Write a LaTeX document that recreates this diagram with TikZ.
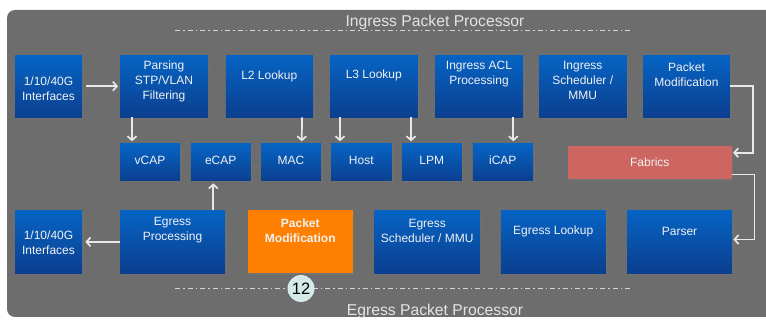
\documentclass[tikz,border=0pt]{standalone}
\usepackage{fontspec}
\setmainfont{Liberation Sans}
\usetikzlibrary{arrows.meta,shadows,calc}
\definecolor{bg}{HTML}{6D6D6D}
\definecolor{boxtop}{HTML}{0664C4}
\definecolor{boxbot}{HTML}{0B3F8F}
\definecolor{fabc}{HTML}{CD6660}
\definecolor{orng}{HTML}{FF7F00}
\definecolor{linec}{HTML}{E8E8E8}
\definecolor{dashc}{HTML}{D6D6D6}
\definecolor{cir}{HTML}{D3EAE8}
\definecolor{txtc}{HTML}{F2F2F2}
\definecolor{ttlc}{HTML}{E4E4E4}
\begin{document}
\begin{tikzpicture}[x=1pt,y=-1pt,
  blk/.style={draw=none, top color=boxtop, bottom color=boxbot, inner sep=0pt,
    anchor=north west, drop shadow={shadow xshift=1.5pt,shadow yshift=-1.5pt,opacity=0.3}},
  flat/.style={draw=none, inner sep=0pt, anchor=north west,
    drop shadow={shadow xshift=1.5pt,shadow yshift=-1.5pt,opacity=0.3}},
  txt/.style={text=txtc, align=center, inner sep=0pt, font=\fontsize{12}{15}\selectfont},
  ttl/.style={text=ttlc, inner sep=0pt, font=\fontsize{15.7}{18}\selectfont},
  arr/.style={draw=linec, line width=1.7pt, -{Straight Barb[length=4pt,width=9pt]}},
  dd/.style={draw=dashc, line width=1pt, dash pattern=on 5pt off 3pt on 1.5pt off 3pt}
]
\useasboundingbox (0,0) rectangle (766,320);
\clip (0,0) rectangle (766,320);
\fill[white] (0,0) rectangle (766,320);
\fill[bg, rounded corners=8pt] (7,10) rectangle (800,317);

% titles and dashed lines
\draw[dd] (175,30.3) -- (632,30.3);
\node[ttl] (ttlin) at (435,22) {Ingress Packet Processor};
\draw[dd] (175,288.5) -- (632,288.5);
\node[ttl] (ttleg) at (435,311) {Egress Packet Processor};

% top row
\node[blk, minimum width=67pt, minimum height=62pt] (i1) at (15,55.7) {};
\node[txt] (ti1) at (48.5,88.5) {1/10/40G\\Interfaces};
\node[blk, minimum width=88pt, minimum height=62pt] (p1) at (120,55) {};
\node[txt] (tp1) at (164,81) {Parsing\\STP/VLAN\\Filtering};
\node[blk, minimum width=87.3pt, minimum height=62pt] (l2) at (225.7,55) {};
\node[txt] (tl2) at (269.3,76) {L2 Lookup};
\node[blk, minimum width=87.7pt, minimum height=62pt] (l3) at (330,55) {};
\node[txt] (tl3) at (373.8,75) {L3 Lookup};
\node[blk, minimum width=88pt, minimum height=62pt] (acl) at (435,55) {};
\node[txt] (tacl) at (479,74.5) {Ingress ACL\\Processing};
\node[blk, minimum width=87.7pt, minimum height=62pt] (sch) at (539,55) {};
\node[txt] (tsch) at (582.8,80) {Ingress\\Scheduler /\\MMU};
\node[blk, minimum width=87pt, minimum height=62pt] (pm) at (643,55) {};
\node[txt] (tpm) at (686.5,74.5) {Packet\\Modification};

% small row
\node[blk, minimum width=60pt, minimum height=37.4pt] (vcap) at (120,143.3) {};
\node[txt] (tvcap) at (150,160.5) {vCAP};
\node[blk, minimum width=60pt, minimum height=37.4pt] (ecap) at (190.7,143.3) {};
\node[txt] (tecap) at (220.7,160.5) {eCAP};
\node[blk, minimum width=60pt, minimum height=37.4pt] (mac) at (261,143.3) {};
\node[txt] (tmac) at (291,160.5) {MAC};
\node[blk, minimum width=60.5pt, minimum height=37.4pt] (host) at (331,143.3) {};
\node[txt] (thost) at (361.3,160.5) {Host};
\node[blk, minimum width=60pt, minimum height=37.4pt] (lpm) at (401.7,143.3) {};
\node[txt] (tlpm) at (431.7,160.5) {LPM};
\node[blk, minimum width=60.3pt, minimum height=37.4pt] (icap) at (472.7,143.3) {};
\node[txt] (ticap) at (502.8,160.5) {iCAP};
\node[flat, fill=fabc, minimum width=163.7pt, minimum height=33.3pt] (fab) at (568,145.7) {};
\node[txt] (tfab) at (649.8,162) {Fabrics};

% bottom row
\node[blk, minimum width=67pt, minimum height=63pt] (i2) at (15,210) {};
\node[txt] (ti2) at (48.5,242.5) {1/10/40G\\Interfaces};
\node[blk, minimum width=105pt, minimum height=63pt] (ep) at (120,210) {};
\node[txt] (tep) at (172.5,230.5) {Egress\\Processing};
\node[flat, fill=orng, minimum width=104.7pt, minimum height=63pt] (pm2) at (248,210) {};
\node[txt, font=\fontsize{12}{15}\selectfont\bfseries] (tpm2) at (300.3,230.5) {Packet\\Modification};
\node[blk, minimum width=105.5pt, minimum height=63pt] (es) at (374.5,210) {};
\node[txt] (tes) at (427.2,230.5) {Egress\\Scheduler / MMU};
\node[blk, minimum width=105pt, minimum height=63pt] (el) at (500.7,210) {};
\node[txt] (tel) at (553.2,231) {Egress Lookup};
\node[blk, minimum width=105pt, minimum height=63pt] (parser) at (627,210) {};
\node[txt] (tparser) at (679.5,231) {Parser};

% circle marker
\node[circle, fill=cir, minimum size=27pt, inner sep=0pt, font=\fontsize{16.5}{18}\selectfont] (n12) at (301,288.5) {12};

% connectors
\draw[arr] ($(i1.east)+(4,-0.7)$) -- ($(p1.west)+(-2,0)$);
\draw[arr] ($(p1.south west)+(12,0)$) -- ($(vcap.north west)+(12,-2)$);
\draw[arr] ($(l2.south east)+(-11.3,0)$) -- ($(mac.north west)+(40.7,-2)$);
\draw[arr] ($(l3.south west)+(10,0)$) -- ($(host.north west)+(9,-2)$);
\draw[arr] ($(l3.south west)+(81,0)$) -- ($(lpm.north west)+(9.3,-2)$);
\draw[arr] ($(acl.south west)+(78.3,0)$) -- ($(icap.north west)+(40.6,-2)$);
\draw[arr] (pm.east) -- ++(22.7,0) |- ($(fab.north east)+(1,7)$);
\draw[arr] ($(fab.south east)+(0,-5)$) -- ++(22.3,0) |- ($(parser.east)+(1,-2.2)$);
\draw[arr] ($(ep.north west)+(93.3,0)$) -- ($(ecap.south west)+(22.6,2.3)$);
\draw[arr] ($(ep.west)+(0,0.2)$) -- ($(i2.east)+(3,0.2)$);
\end{tikzpicture}
\end{document}
